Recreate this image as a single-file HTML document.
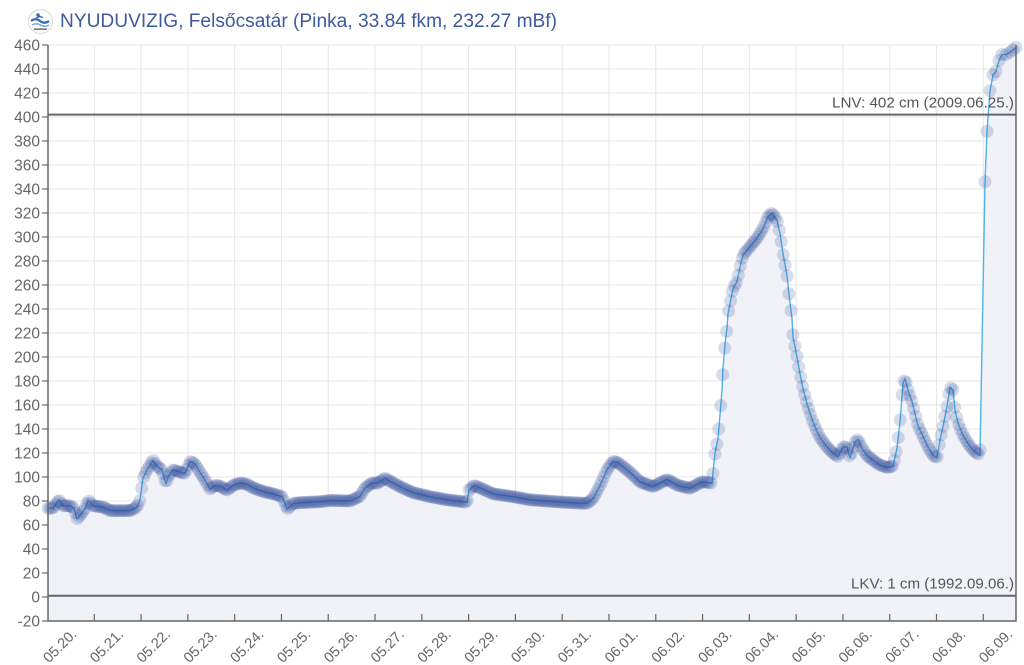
<!DOCTYPE html>
<html>
<head>
<meta charset="utf-8">
<style>
html,body{margin:0;padding:0;background:#fff;}
svg{display:block;}
text{font-family:"Liberation Sans",Arial,sans-serif;}
</style>
</head>
<body>
<svg id="c" width="1024" height="665" viewBox="0 0 1024 665" xmlns="http://www.w3.org/2000/svg">
  <rect x="0" y="0" width="1024" height="665" fill="#fff"/>

  <!-- title icon -->
  <circle cx="40.5" cy="21.5" r="12" fill="#fff" stroke="#d8d8d8" stroke-width="1"/>
  <path d="M31 21 q4.5 -3.5 9 0 t9 0" fill="none" stroke="#3a6cb4" stroke-width="2.2"/>
  <path d="M32 25 q4 -2.5 8.5 0 t8.5 0" fill="none" stroke="#7fa8d8" stroke-width="1.6"/>
  <circle cx="38" cy="15" r="1.8" fill="#3a6cb4"/>
  <path d="M36 18 l4 -1.5 l3 1" fill="none" stroke="#3a6cb4" stroke-width="1.3"/>
  <rect x="34" y="28.5" width="13" height="1.3" fill="#555"/>
  <text x="60" y="27" font-size="19" fill="#3d5a9c" textLength="497" lengthAdjust="spacingAndGlyphs">NYUDUVIZIG, Felsőcsatár (Pinka, 33.84 fkm, 232.27 mBf)</text>

  <!-- grid -->
  <g id="grid" stroke="#e6e6e6" stroke-width="1"></g>

  <!-- area + line -->
  <g transform="matrix(1 0 0 -1.2 0 597)">
    <polygon id="area" fill="#f1f2f8" stroke="none" points=""/>
  </g>
  <g id="gridv" stroke="#e6e6e6" stroke-width="1" opacity="0.6"></g>
  <g transform="matrix(1 0 0 -1.2 0 597)">
    <polyline id="line" fill="none" stroke="#4cb5ea" stroke-width="1.4" vector-effect="non-scaling-stroke" stroke-linejoin="round" points=""/>
  </g>
  <g id="markers"></g>

  <!-- plot lines -->
  <line x1="48" y1="114.6" x2="1016" y2="114.6" stroke="#666" stroke-width="2"/>
  <line x1="48" y1="595.8" x2="1016" y2="595.8" stroke="#666" stroke-width="2"/>
  <text x="1014" y="107.5" font-size="15" fill="#555" text-anchor="end" textLength="182" lengthAdjust="spacingAndGlyphs">LNV: 402 cm (2009.06.25.)</text>
  <text x="1014" y="588.5" font-size="15" fill="#555" text-anchor="end" textLength="163" lengthAdjust="spacingAndGlyphs">LKV: 1 cm (1992.09.06.)</text>

  <!-- axes -->
  <line x1="48" y1="45" x2="48" y2="621.5" stroke="#666" stroke-width="1.5"/>
  <line x1="47.5" y1="621" x2="1016.5" y2="621" stroke="#666" stroke-width="1.5"/>
  <line x1="1016" y1="45" x2="1016" y2="621.5" stroke="#666" stroke-width="1.5"/>
  <g id="yticks" stroke="#666" stroke-width="1.2"></g>
  <g id="ylabels" font-size="15.5" fill="#666" text-anchor="end"></g>
  <g id="xticks" stroke="#666" stroke-width="1.2"></g>
  <g id="xlabels" font-size="14.5" fill="#666" text-anchor="end"></g>
</svg>
<script>
(function(){
  var NS="http://www.w3.org/2000/svg";
  function el(tag,attrs,parent,txt){var e=document.createElementNS(NS,tag);for(var k in attrs)e.setAttribute(k,attrs[k]);if(txt!==undefined)e.textContent=txt;parent.appendChild(e);return e;}
  function Y(v){return 597-1.2*v;}
  var raw="48,74 53,74 59,81 63,76 70,76 74,74 77,65 82,70 86,75 88,81 93,76 103,75 110,72 130,72 137,75 140,81 143,99 147,106 153,114 157,109 162,106 166,94 168,100 173,106 180,104 185,103 190,113 195,111 200,104 205,97.5 210,90 215,93 220,92.5 227,89 233,93 240,95 247,94 253,91 263,88 273,86 282,83.6 285,78 287,73 293,78 300,78.6 320,79.4 330,80.5 350,80 360,84 365,91 372,95 378,95 385,99 389,97 400,92 413,87 430,83.6 447,81 467,79 469,89 474,93 480,91 493,86 513,83.6 530,81 563,79 587,78 593,82 600,93 607,106 613,113 618,112 624,108 630,104 640,96 653,92 667,98 678,93 690,90.6 702,96 712,95 715,120 718,132 720,152 722,172 723,191 725,211 727,224 728,236 731,249 733,257 737,263 740,275 743,285 750,292 757,299 763,307 768,317 772,320 777,314 780,303 783,286 787,268 790,245 792,232 793,217 797,200 800,186 803,174 807,161 812,148 817,138 820,133 827,125 833,120 838,117 843,125 847,125 850,116 855,129 858,131.5 862,124 867,118 873,114 880,110 887,108 893,109 897,124 900,146 903,178 905,182 908,172.5 912,163 915,153 918,143 923,134 928,125 933,118 937,116 940,131 943,142 947,159 950,175 953,172.5 955,156 958,145 963,135 968,128 973,122.5 980,118 985,346 987,388 990,422 993,435 996,438 999,447 1002,452 1006,452 1010,454 1013,456 1016,458";
  var pts=raw.split(" ").map(function(s){var a=s.split(",");return [parseFloat(a[0]),parseFloat(a[1])];});
  document.getElementById("line").setAttribute("points",raw);
  document.getElementById("area").setAttribute("points",raw+" 1016,-20 48,-20");

  var g=document.getElementById("grid");
  for(var v=-20;v<=460;v+=20){ if(v===-20)continue; el("line",{x1:48,y1:Y(v),x2:1016,y2:Y(v)},g); }
  var day=46.79, x0=47.5;
  for(var k=1;k<=20;k++){ var x=x0+day*k; el("line",{x1:x,y1:45,x2:x,y2:621},g); }
  var yt=document.getElementById("yticks"), yl=document.getElementById("ylabels");
  for(var v=-20;v<=460;v+=20){ el("line",{x1:42,y1:Y(v),x2:48,y2:Y(v)},yt); el("text",{x:40,y:Y(v)+5.3},yl,String(v)); }
  var xt=document.getElementById("xticks"), xl=document.getElementById("xlabels");
  var labels=["05.20.","05.21.","05.22.","05.23.","05.24.","05.25.","05.26.","05.27.","05.28.","05.29.","05.30.","05.31.","06.01.","06.02.","06.03.","06.04.","06.05.","06.06.","06.07.","06.08.","06.09."];
  for(var k=0;k<labels.length;k++){
    var x=x0+day*k;
    if(k>0) el("line",{x1:x,y1:614,x2:x,y2:621},xt);
    var ax=x+30, ay=635;
    el("text",{x:ax,y:ay,transform:"rotate(-45 "+ax+" "+ay+")"},xl,labels[k]);
  }
  function valAt(x){
    for(var i=0;i<pts.length-1;i++){
      if(x>=pts[i][0]&&x<=pts[i+1][0]){var t=(x-pts[i][0])/(pts[i+1][0]-pts[i][0]);return pts[i][1]+t*(pts[i+1][1]-pts[i][1]);}
    }
    return pts[pts.length-1][1];
  }
  var m=document.getElementById("markers");
  var fill="rgba(40,70,150,0.19)";
  var R=6.5;
  for(var x=48;x<=980.5;x+=1.95){ el("circle",{cx:x.toFixed(2),cy:Y(valAt(x)).toFixed(2),r:R,fill:fill},m); }
  for(var i=0;i<pts.length;i++){ if(pts[i][0]>=985) el("circle",{cx:pts[i][0],cy:Y(pts[i][1]).toFixed(2),r:R,fill:fill},m); }
})();
</script>
</body>
</html>
